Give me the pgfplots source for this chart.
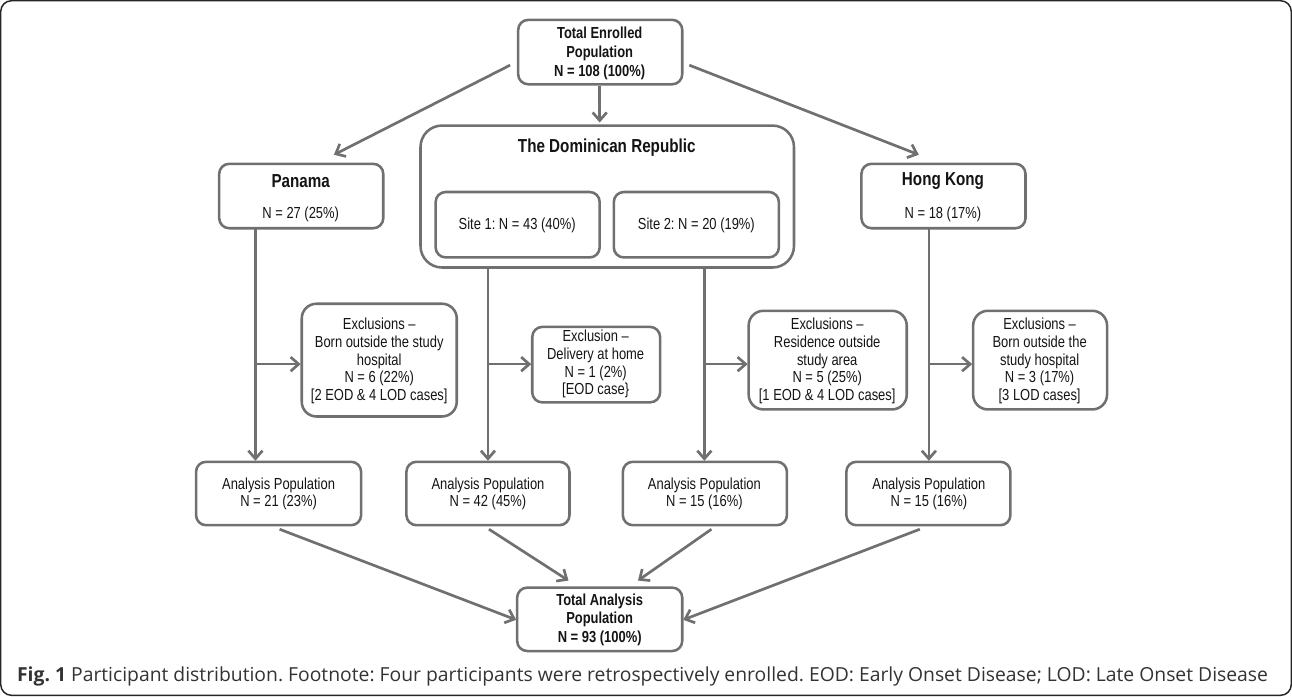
\documentclass[border=0pt]{standalone}
\usepackage{fontspec}
\usepackage{pgfplots}
\pgfplotsset{compat=1.18}
\usetikzlibrary{arrows.meta}
\setmainfont{Liberation Sans}
\newfontfamily\boxfont[FakeStretch=0.81]{Liberation Sans}
\newfontfamily\capfont{Open Sans}
\definecolor{lg}{RGB}{112,112,112}
\definecolor{tx}{RGB}{20,20,20}
\frenchspacing
\begin{document}
\begin{tikzpicture}[
  bx/.style={draw=lg, line width=1.9pt, rounded corners=7.5pt},
  ex/.style={draw=lg, line width=1.9pt, rounded corners=11pt},
  ar/.style={draw=lg, line width=2pt, -{Straight Barb[length=6pt,width=10.5pt,line width=2pt]}},
  t/.style={font={\boxfont\fontsize{11.9}{13.2}\selectfont}, text=tx, align=center, inner sep=0pt},
  tb/.style={font={\boxfont\bfseries\fontsize{11.9}{14}\selectfont}, text=tx, align=center, inner sep=0pt},
  tt/.style={font={\boxfont\bfseries\fontsize{14}{15}\selectfont}, text=tx, align=center, inner sep=0pt},
]
\begin{axis}[scale only axis, width=969pt, height=525pt,
  xmin=0, xmax=1292, ymin=0, ymax=700, y dir=reverse,
  axis lines=none, clip=false]
% outer frame
\draw[line width=1.1pt, draw=black!85, rounded corners=8pt] (5,7) rectangle (1287,697);
% top box
\draw[bx] (519,26) rectangle (682,90);
\node[tb] at (600,59) {Total Enrolled\\Population\\N = 108 (100\%)};
\draw[ar] (600,92) -- (600,128);
\draw[ar] (511,71) -- (336,160);
\draw[ar] (689,71) -- (917,160);
% Panama
\draw[bx] (222,169) rectangle (385,233);
\node[tt] at (303,186) {Panama};
\node[t] at (303,219) {N = 27 (25\%)};
% Dominican Republic
\draw[bx, rounded corners=16pt] (422,131) rectangle (793,272);
\node[tt] at (607,153) {The Dominican Republic};
\draw[bx] (437,197) rectangle (600,262);
\node[t] at (518,230) {Site 1: N = 43 (40\%)};
\draw[bx] (614,197) rectangle (778,262);
\node[t] at (696,230) {Site 2: N = 20 (19\%)};
% Hong Kong
\draw[bx] (860,169) rectangle (1023,233);
\node[tt] at (941,186) {Hong Kong};
\node[t] at (941,219) {N = 18 (17\%)};
% vertical arrows
\draw[ar] (258,233) -- (258,464);
\draw[ar] (489,272) -- (489,464);
\draw[ar] (704,272) -- (704,464);
\draw[ar] (927,233) -- (927,464);
% branch arrows
\draw[ar] (258,368) -- (303,368);
\draw[ar] (489,368) -- (532,368);
\draw[ar] (704,368) -- (747,368);
\draw[ar] (927,368) -- (970,368);
% exclusion boxes
\draw[ex] (304,308) rectangle (458,420);
\node[t] at (381,365) {Exclusions –\\Born outside the study\\hospital\\N = 6 (22\%)\\{}[2 EOD \& 4 LOD cases]};
\draw[bx] (533,331) rectangle (660,406);
\node[t] at (596,368) {Exclusion –\\Delivery at home\\N = 1 (2\%)\\{}[EOD case\}};
\draw[ex] (748,315) rectangle (905,413);
\node[t] at (826,365) {Exclusions –\\Residence outside\\study area\\N = 5 (25\%)\\{}[1 EOD \& 4 LOD cases]};
\draw[ex] (971,315) rectangle (1104,413);
\node[t] at (1037,365) {Exclusions –\\Born outside the\\study hospital\\N = 3 (17\%)\\{}[3 LOD cases]};
% analysis boxes
\draw[bx] (199,465) rectangle (363,528);
\node[t] at (281,497) {Analysis Population\\N = 21 (23\%)};
\draw[bx] (408,465) rectangle (570,528);
\node[t] at (489,497) {Analysis Population\\N = 42 (45\%)};
\draw[bx] (623,465) rectangle (786,528);
\node[t] at (704,497) {Analysis Population\\N = 15 (16\%)};
\draw[bx] (845,465) rectangle (1008,528);
\node[t] at (927,497) {Analysis Population\\N = 15 (16\%)};
% arrows to total
\draw[ar] (282,532) -- (517,622);
\draw[ar] (490,532) -- (569,583);
\draw[ar] (711,532) -- (638,583);
\draw[ar] (918,532) -- (683,622);
% total analysis
\draw[bx] (518,590) rectangle (682,653);
\node[tb] at (600,622) {Total Analysis\\Population\\N = 93 (100\%)};
% caption
\node[anchor=west, inner sep=0pt, text=black!80, font={\capfont\fontsize{14.4}{16}\selectfont}] at (21,678)
  {{\bfseries Fig. 1} Participant distribution. Footnote: Four participants were retrospectively enrolled. EOD: Early Onset Disease; LOD: Late Onset Disease};
\end{axis}
\end{tikzpicture}
\end{document}
